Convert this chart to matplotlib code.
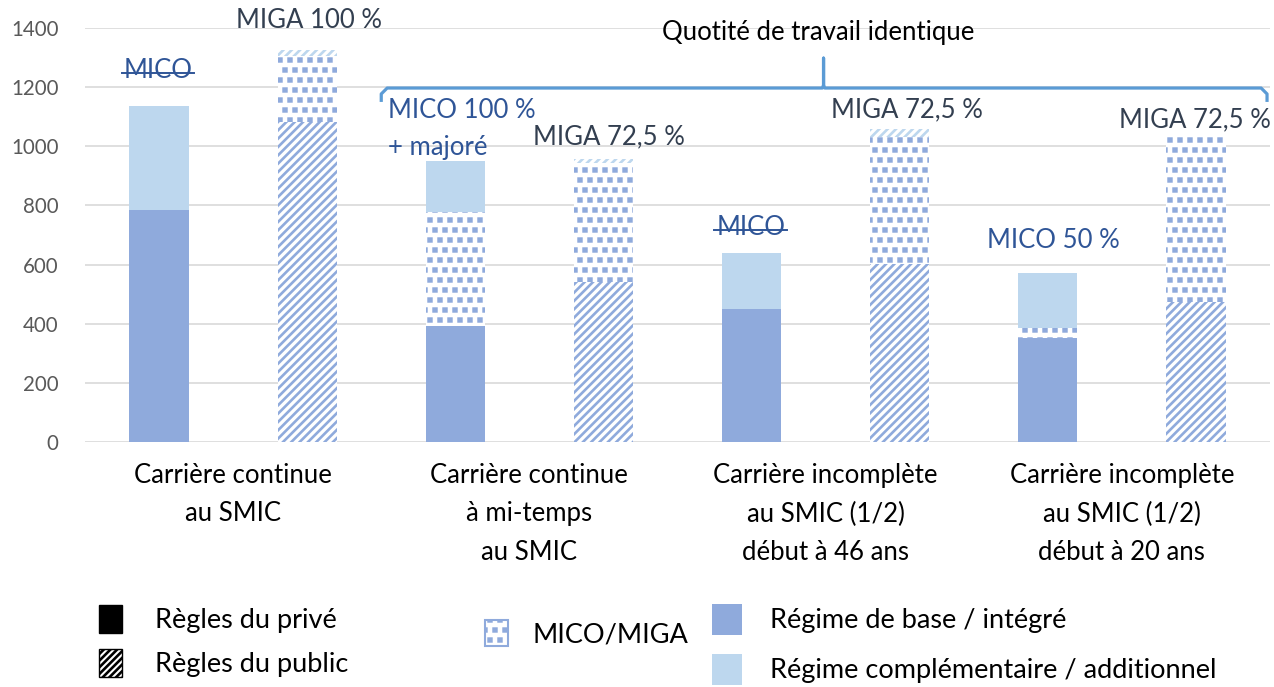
import matplotlib
matplotlib.use('Agg')
import matplotlib.pyplot as plt
import matplotlib.hatch as mhatch
from matplotlib.patches import Patch
from matplotlib.path import Path
import numpy as np

plt.rcParams['font.family'] = ['Lato', 'DejaVu Sans']
plt.rcParams['hatch.linewidth'] = 1.9


# square dots, like the office "small confetti" fill ('*' in the hatch string)
class SquareDots(mhatch.Shapes):
    size = 0.14
    filled = True

    def __init__(self, hatch, density):
        self.num_rows = int(hatch.count('*') * density * 1.67)
        self.shape_vertices = Path.unit_rectangle().vertices * 2 - 1
        self.shape_codes = Path.unit_rectangle().codes
        super().__init__(hatch, density)


mhatch._hatch_types = [SquareDots if h is mhatch.Stars else h for h in mhatch._hatch_types]

# --- data ---
categories = ["Carrière continue\nau SMIC",
              "Carrière continue\nà mi-temps\nau SMIC",
              "Carrière incomplète\nau SMIC (1/2)\ndébut à 46 ans",
              "Carrière incomplète\nau SMIC (1/2)\ndébut à 20 ans"]
# private rules (left bar of each group)
prive_base = [785, 392, 450, 352]
prive_mico = [0, 386, 0, 33]
prive_compl = [351, 172, 189, 186]
# public rules (right bar of each group)
public_base = [1082, 541, 602, 473]
public_miga = [223, 402, 429, 562]
public_add = [20, 14, 27, 0]

prive_labels = ["MICO", "MICO 100 %", "MICO", "MICO 50 %"]
prive_struck = [True, False, True, False]
public_labels = ["MIGA 100 %", "MIGA 72,5 %", "MIGA 72,5 %", "MIGA 72,5 %"]

C_BASE = '#8faadc'
C_COMPL = '#bdd7ee'
C_MICO_TXT = '#2f5597'
C_MIGA_TXT = '#333f50'
C_BRACE = '#5b9bd5'
FS = 18.5

fig = plt.figure(figsize=(12.74, 6.87), dpi=100)
ax = fig.add_axes([85 / 1274, 1 - 442 / 687, (1270 - 85) / 1274, 414 / 687])

x = np.arange(len(categories))
w = 0.2
off = 0.25
xp = x - off
xq = x + off

pb = np.array(prive_base)
pm = np.array(prive_mico)
pc = np.array(prive_compl)
qb = np.array(public_base)
qm = np.array(public_miga)
qa = np.array(public_add)

DOTS = '*'
STRIPES = '////'

# private bars: solid fills
ax.bar(xp, pb, w, color=C_BASE, zorder=2)
ax.bar(xp, pm, w, bottom=pb, color='white', edgecolor=C_BASE, hatch=DOTS, lw=0, zorder=2)
ax.bar(xp, pc, w, bottom=pb + pm, color=C_COMPL, zorder=2)

# public bars: hatched
ax.bar(xq, qb, w, color='white', edgecolor=C_BASE, hatch=STRIPES, lw=0, zorder=2)
ax.bar(xq, qm, w, bottom=qb, color='white', edgecolor=C_BASE, hatch=DOTS, lw=0, zorder=2)
ax.bar(xq, qa, w, bottom=qb + qm, color='white', edgecolor=C_COMPL, hatch=STRIPES, lw=0, zorder=2)

ax.set_xlim(-0.5, 3.5)
ax.set_ylim(0, 1400)
ax.set_yticks(range(0, 1401, 200))
ax.grid(axis='y', color='#d9d9d9', lw=1.2, zorder=0)
ax.set_axisbelow(True)
for s in ax.spines.values():
    s.set_visible(False)
ax.tick_params(axis='y', length=0, labelsize=14.8, labelcolor='#595959', pad=19)
ax.set_xticks(x)
ax.set_xticklabels(categories, fontsize=FS, linespacing=1.68)
ax.tick_params(axis='x', length=0, pad=15)

# labels above bars
fig.canvas.draw()
renderer = fig.canvas.get_renderer()
prive_lbl_pos = [(-0.253, 1255, 'center'), (0.524, 1122, 'left'),
                 (1.747, 724, 'center'), (2.77, 680, 'center')]
for (tx, ty, ha), lab, st in zip(prive_lbl_pos, prive_labels, prive_struck):
    t = ax.text(tx, ty, lab, color=C_MICO_TXT, fontsize=FS, ha=ha, va='center')
    if st:
        bb = t.get_window_extent(renderer).transformed(ax.transData.inverted())
        ym = bb.y0 + (bb.y1 - bb.y0) * 0.42
        ax.plot([bb.x0 - 0.006, bb.x1 + 0.006], [ym, ym], color=C_MICO_TXT, lw=1.4)
ax.text(0.524, 997, "+ majoré", color=C_MICO_TXT, fontsize=FS, ha='left', va='center')

public_lbl_pos = [(0.257, 1427), (1.267, 1031), (2.274, 1122), (3.247, 1089)]
for (tx, ty), lab in zip(public_lbl_pos, public_labels):
    ax.text(tx, ty, lab, color=C_MIGA_TXT, fontsize=FS, ha='center', va='center', clip_on=False)

# bracket "Quotité de travail identique"
bx0, bx1, by, bend, btop, bmid = 0.5, 3.49, 1197, 1150, 1298, 1.993
r = 0.02
ax.plot([bx0, bx0, bx0 + r, bmid - 0.004, bmid, bmid, bmid, bmid + 0.004, bx1 - r, bx1, bx1],
        [bend, by - 20, by, by, by + 10, btop, by + 10, by, by, by - 20, bend],
        color=C_BRACE, lw=2.3, solid_capstyle='butt', solid_joinstyle='round', clip_on=False, zorder=3)
ax.text(1.976, 1386, "Quotité de travail identique", color='black', fontsize=FS,
        ha='center', va='center', clip_on=False)

# legends
LFS = 19.5
leg_kw = dict(frameon=False, fontsize=LFS, borderpad=0, borderaxespad=0)
h1 = [Patch(facecolor='black', edgecolor='black'),
      Patch(facecolor='white', edgecolor='black', hatch='/////', lw=1)]
fig.legend(h1, ["Règles du privé", "Règles du public"], loc='upper left',
           bbox_to_anchor=(99 / 1274, 1 - 605 / 687), labelspacing=0.59,
           handlelength=0.85, handleheight=1.22, handletextpad=1.2, **leg_kw)
h2 = [Patch(facecolor='white', edgecolor=C_BASE, hatch=DOTS, lw=1.5)]
fig.legend(h2, ["MICO/MIGA"], loc='upper left',
           bbox_to_anchor=(485 / 1274, 1 - 620 / 687),
           handlelength=0.85, handleheight=1.1, handletextpad=0.9, **leg_kw)
h3 = [Patch(facecolor=C_BASE), Patch(facecolor=C_COMPL)]
fig.legend(h3, ["Régime de base / intégré", "Régime complémentaire / additionnel"],
           loc='upper left', bbox_to_anchor=(712 / 1274, 1 - 604 / 687),
           labelspacing=0.71, handlelength=1.1, handleheight=1.37, handletextpad=1.04, **leg_kw)

fig.savefig('out.png', dpi=100)
